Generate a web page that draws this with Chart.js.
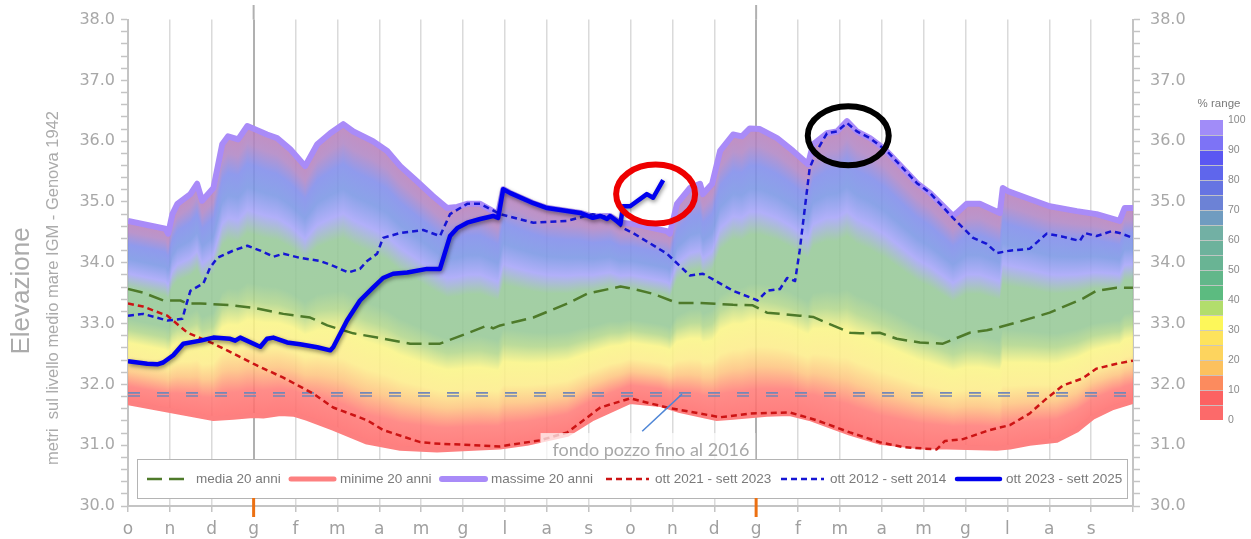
<!DOCTYPE html>
<html lang="it">
<head>
<meta charset="utf-8">
<title>Elevazione falda</title>
<script src="https://cdn.jsdelivr.net/npm/chart.js@4/dist/chart.umd.min.js"></script>
<style>
  html, body { margin: 0; padding: 0; background: #fff; }
  #chart { display: block; }
</style>
</head>
<body>
<canvas id="chart" width="1251" height="539"></canvas>
<script>
// mesi da ottobre a settembre, due anni idrologici
const mesi = ['o','n','d','g','f','m','a','m','g','l','a','s','o','n','d','g','f','m','a','m','g','l','a','s'];
const gennaio = [3, 15];

// massime 20 anni (mese decimale, quota m)
const maxMese = [0,0.89,0.96,1.06,1.18,1.49,1.65,1.77,2.04,2.25,2.39,2.63,2.85,2.99,3.32,3.56,3.87,4.23,4.52,4.83,5.14,5.38,5.85,6.19,6.5,6.9,7.28,7.62,7.86,8.1,8.41,8.84,8.96,9.12,9.68,10.01,10.8,11.1,11.51,11.76,12.06,12.87,12.94,13.11,13.42,13.66,13.73,13.95,14.14,14.45,14.66,14.85,15.09,15.5,15.88,16.24,16.36,16.69,16.93,17.17,17.41,17.72,18.07,18.84,19.15,19.7,19.79,20.03,20.34,20.82,20.89,21.01,21.53,22.01,22.66,23.13,23.68,23.8,24];
const maxQuota = [34.69,34.56,34.48,34.80,34.97,35.13,35.30,35.02,35.23,35.95,36.08,36.03,36.25,36.21,36.11,36.05,35.87,35.59,35.95,36.13,36.28,36.16,36.00,35.84,35.59,35.34,35.10,34.90,34.92,34.97,34.97,34.80,35.21,35.15,34.98,34.90,34.82,34.76,34.77,34.66,34.64,34.52,34.48,34.97,35.23,35.30,35.13,35.30,35.84,36.11,36.08,36.21,36.20,36.05,35.84,35.62,35.95,36.13,36.16,36.33,36.16,36.05,35.87,35.31,35.15,34.77,34.82,34.97,34.97,34.82,35.23,35.18,35.05,34.93,34.85,34.80,34.69,34.90,34.90];

// minime 20 anni
const minMese = [0,1.01,2.04,2.51,2.99,3.23,3.64,3.95,4.28,4.9,5.71,6.5,7.38,8.88,9.53,10.49,11.1,11.99,12.71,13.18,14.06,14.45,15.26,15.8,16.28,16.83,17.24,17.95,18.98,19.55,20.75,21.06,21.53,22.18,22.66,23.04,23.52,24];
const minQuota = [31.70,31.57,31.44,31.46,31.49,31.48,31.52,31.51,31.44,31.28,31.05,30.95,30.92,30.97,31.03,31.18,31.44,31.72,31.67,31.57,31.44,31.46,31.51,31.52,31.44,31.30,31.20,31.05,30.97,30.97,30.95,30.97,31.03,31.08,31.25,31.46,31.62,31.72];

// media 20 anni
const mediaMese = [0,0.36,0.84,1.25,1.42,1.73,2.51,2.99,3.71,4.35,4.76,5.38,5.95,6.74,7.45,8.1,8.58,8.72,8.89,9.68,10.49,10.96,11.76,12.06,12.54,13.11,13.66,14.45,14.92,15.26,16.04,16.36,17.24,17.48,17.95,18.36,18.91,19.46,20.1,20.51,20.75,21.23,22.01,22.8,23.13,23.61,24];
const mediaQuota = [33.57,33.51,33.38,33.38,33.33,33.33,33.30,33.26,33.16,33.10,32.97,32.84,32.77,32.67,32.67,32.84,32.97,32.92,32.97,33.10,33.33,33.49,33.61,33.57,33.49,33.34,33.34,33.31,33.30,33.18,33.13,33.11,32.85,32.84,32.85,32.75,32.69,32.67,32.85,32.89,32.93,33.02,33.18,33.41,33.54,33.59,33.59];

// ott 2021 - sett 2023
const rossoMese = [0,0.36,0.94,1.42,2.04,2.51,2.99,3.71,4.42,4.9,5.71,6.09,6.98,7.29,8.88,9.84,10.49,11.28,11.99,12.87,13.66,14.14,14.85,15.8,16.45,17.24,17.95,18.5,19.31,19.51,19.94,20.58,21.06,21.53,21.94,22.32,22.8,23.13,23.61,24];
const rossoQuota = [33.33,33.28,33.13,32.85,32.67,32.51,32.34,32.11,31.85,31.62,31.41,31.25,31.05,31.03,30.98,31.08,31.21,31.62,31.77,31.62,31.52,31.46,31.52,31.54,31.41,31.21,31.05,30.97,30.93,31.07,31.10,31.25,31.33,31.52,31.77,31.98,32.10,32.26,32.34,32.39];

// ott 2012 - sett 2014
const bluMese = [0,0.36,0.94,1.3,1.37,1.49,1.8,1.96,2.13,2.51,2.85,3.16,3.47,3.71,4.11,4.59,4.9,5.26,5.54,5.71,5.95,6.09,6.5,7.05,7.45,7.69,8.1,8.41,8.89,9.68,10.49,11.1,11.58,11.82,12.06,12.87,13.42,13.73,14.45,15.04,15.26,15.57,15.74,15.93,16.04,16.28,16.45,16.69,16.93,17.17,17.41,17.72,18.12,18.84,19.15,19.7,20.18,20.51,20.75,21.06,21.53,21.94,22.32,22.73,22.85,23.13,23.49,23.68,24];
const bluQuota = [33.13,33.16,33.05,33.08,33.26,33.54,33.66,33.92,34.08,34.20,34.28,34.20,34.10,34.15,34.08,34.03,33.95,33.84,33.90,34.03,34.15,34.41,34.49,34.54,34.44,34.80,34.97,34.97,34.80,34.66,34.69,34.80,34.74,34.57,34.49,34.15,33.79,33.82,33.54,33.38,33.54,33.57,33.75,33.70,34.20,35.56,35.84,36.13,36.16,36.30,36.16,36.05,35.84,35.31,35.15,34.74,34.41,34.31,34.16,34.20,34.23,34.48,34.43,34.36,34.49,34.44,34.52,34.49,34.41];

// ott 2023 - sett 2025 (in corso)
const attualeMese = [0,0.46,0.7,0.84,1.08,1.32,1.73,2.04,2.44,2.56,2.68,3.09,3.16,3.32,3.47,3.8,4.11,4.52,4.83,4.9,5.23,5.54,5.85,6.09,6.33,6.67,7.14,7.45,7.69,7.86,8.1,8.41,8.72,8.84,8.96,9.12,9.68,10.01,10.8,11.1,11.28,11.44,11.51,11.76,11.82,11.99,12.39,12.54,12.78];
const attualeQuota = [32.38,32.34,32.33,32.36,32.48,32.67,32.72,32.77,32.75,32.72,32.77,32.64,32.62,32.75,32.77,32.69,32.66,32.61,32.56,32.61,33.05,33.38,33.59,33.75,33.82,33.84,33.90,33.90,34.44,34.57,34.66,34.72,34.77,34.74,35.21,35.15,34.98,34.90,34.82,34.74,34.77,34.72,34.77,34.64,34.93,34.93,35.13,35.07,35.36];

// fondo pozzo fino al 2016 (doppia linea)
const fondoPozzo = [31.86, 31.81];
const fondoEtichetta = { x: 12.49, y: 30.92 };
const fondoFreccia = [[12.28, 31.23], [13.23, 31.84]];

// cerchi di evidenza
const cerchioRosso = { x: 12.60, y: 35.13 };
const cerchioNero = { x: 17.20, y: 36.09 };

// scala colori % range (dall'alto)
const rangeColori = ['#a18cf8','#7d73f6','#5b57f2','#5f66ec','#6674e2','#6c82d6','#709cc0','#72b0a4','#6db29c','#69b494','#62b78a','#5cbb80','#b2dd6c','#fdf75a','#fde35c','#fdd45e','#fcc15e','#fc8b5e','#fc6262','#fc6a6a'];
const rangeEtichette = ['100','90','80','70','60','50','40','30','20','10','0'];

// voci di legenda e loro scostamento dal bordo del riquadro
const voci = ['media 20 anni', 'minime 20 anni', 'massime 20 anni', 'ott 2021 - sett 2023', 'ott 2012 - sett 2014', 'ott 2023 - sett 2025'];
const vociX = [8, 152, 303, 467, 642, 818];

const punti = (mm, qq) => mm.map((m, i) => ({ x: m, y: qq[i] }));

// sfumatura della fascia min-max (0 = minimo, 1 = massimo)
const sfumatura = [
  [0.00, 'rgb(255,108,108)'], [0.09, 'rgb(255,124,120)'], [0.17, 'rgb(253,196,128)'],
  [0.24, 'rgb(252,236,138)'], [0.33, 'rgb(249,244,134)'], [0.40, 'rgb(178,214,140)'],
  [0.46, 'rgb(150,200,150)'], [0.63, 'rgb(150,200,152)'], [0.71, 'rgb(166,164,248)'],
  [0.79, 'rgb(122,150,228)'], [0.87, 'rgb(128,140,234)'], [0.94, 'rgb(176,134,196)'],
  [1.00, 'rgb(186,128,184)']
];

const bandaPlugin = {
  id: 'banda',
  beforeDatasetsDraw(chart) {
    const { ctx, chartArea, scales: { x, y } } = chart;
    const alto = maxMese.map((m, i) => [x.getPixelForValue(m), y.getPixelForValue(maxQuota[i])]);
    const basso = minMese.map((m, i) => [x.getPixelForValue(m), y.getPixelForValue(minQuota[i])]);
    const su = (pts, px) => {
      for (let i = 1; i < pts.length; i++) {
        if (px <= pts[i][0]) {
          const [x0, y0] = pts[i - 1], [x1, y1] = pts[i];
          return y0 + (px - x0) / ((x1 - x0) || 1) * (y1 - y0);
        }
      }
      return pts[pts.length - 1][1];
    };
    ctx.save();
    ctx.globalAlpha = 0.88;
    for (let px = Math.floor(chartArea.left); px < chartArea.right; px++) {
      const yT = su(alto, px + 0.5), yB = su(basso, px + 0.5);
      const g = ctx.createLinearGradient(0, yB, 0, yT);
      sfumatura.forEach(([f, c]) => g.addColorStop(f, c));
      ctx.fillStyle = g;
      ctx.fillRect(px, yT, 1, yB - yT);
    }
    ctx.restore();
    // linee di gennaio oltre l'area
    ctx.save();
    ctx.strokeStyle = '#b0b0b0';
    ctx.lineWidth = 2;
    gennaio.forEach(m => {
      const gx = x.getPixelForValue(m);
      ctx.beginPath(); ctx.moveTo(gx, 5); ctx.lineTo(gx, chartArea.top); ctx.stroke();
    });
    ctx.restore();
  },
  beforeDatasetDraw(chart, args) {
    if (chart.data.datasets[args.index].label === 'ott 2023 - sett 2025') {
      const ctx = chart.ctx;
      ctx.save();
      ctx.shadowColor = 'rgba(0,0,0,0.45)';
      ctx.shadowBlur = 4;
      ctx.shadowOffsetX = 1;
      ctx.shadowOffsetY = 2;
    }
  },
  afterDatasetDraw(chart, args) {
    if (chart.data.datasets[args.index].label === 'ott 2023 - sett 2025') chart.ctx.restore();
  },
  afterDatasetsDraw(chart) {
    const { ctx, chartArea, scales: { x, y } } = chart;

    // etichetta fondo pozzo
    ctx.save();
    ctx.font = '18px Lato';
    const tx = x.getPixelForValue(fondoEtichetta.x), ty = y.getPixelForValue(fondoEtichetta.y);
    const tw = ctx.measureText('fondo pozzo fino al 2016').width;
    ctx.fillStyle = 'rgba(255,255,255,0.7)';
    ctx.fillRect(tx - tw / 2 - 12, ty - 17, tw + 18, 27);
    ctx.fillStyle = '#a8a8a8';
    ctx.textAlign = 'center';
    ctx.textBaseline = 'middle';
    ctx.fillText('fondo pozzo fino al 2016', tx, ty);
    ctx.strokeStyle = '#4f86d6';
    ctx.lineWidth = 1.5;
    ctx.beginPath();
    ctx.moveTo(x.getPixelForValue(fondoFreccia[0][0]), y.getPixelForValue(fondoFreccia[0][1]));
    ctx.lineTo(x.getPixelForValue(fondoFreccia[1][0]), y.getPixelForValue(fondoFreccia[1][1]));
    ctx.stroke();
    ctx.restore();

    // cerchi
    ctx.save();
    ctx.lineWidth = 6;
    ctx.strokeStyle = '#ee0000';
    ctx.beginPath();
    ctx.ellipse(x.getPixelForValue(cerchioRosso.x), y.getPixelForValue(cerchioRosso.y), 39.5, 29.5, 0, 0, Math.PI * 2);
    ctx.stroke();
    ctx.strokeStyle = '#000';
    ctx.beginPath();
    ctx.ellipse(x.getPixelForValue(cerchioNero.x), y.getPixelForValue(cerchioNero.y), 40.5, 29.5, 0, 0, Math.PI * 2);
    ctx.stroke();
    ctx.restore();

    // legenda nel riquadro
    ctx.save();
    const bx = chartArea.left + 9, by = chartArea.bottom - 47;
    ctx.fillStyle = '#fff';
    ctx.fillRect(bx, by, chartArea.right - 6 - bx, 39);
    ctx.strokeStyle = '#b4b4b4';
    ctx.lineWidth = 1;
    ctx.strokeRect(bx + 0.5, by + 0.5, chartArea.right - 6 - bx, 39);
    ctx.font = '13.5px "Liberation Sans"';
    ctx.textBaseline = 'middle';
    const ly = by + 20;
    voci.forEach((nome, i) => {
      const lx = bx + vociX[i];
      const ds = chart.data.datasets.find(d => d.label === nome);
      ctx.strokeStyle = ds.borderColor;
      ctx.lineWidth = ds.borderWidth;
      ctx.setLineDash(ds.borderDash || []);
      ctx.lineCap = ds.borderDash ? 'butt' : 'round';
      ctx.beginPath();
      ctx.moveTo(lx + 2, ly); ctx.lineTo(lx + 45, ly);
      ctx.stroke();
      ctx.setLineDash([]);
      ctx.fillStyle = '#7a7a7a';
      ctx.fillText(nome, lx + 51, ly);
    });
    ctx.restore();

    // tacche arancioni di gennaio
    ctx.save();
    ctx.strokeStyle = '#ec7012';
    ctx.lineWidth = 3;
    gennaio.forEach(m => {
      const gx = x.getPixelForValue(m);
      ctx.beginPath(); ctx.moveTo(gx, chartArea.bottom - 8); ctx.lineTo(gx, chartArea.bottom + 11); ctx.stroke();
    });
    ctx.restore();
  },
  afterDraw(chart) {
    const { ctx } = chart;
    ctx.save();
    ctx.fillStyle = '#ababab';
    ctx.textAlign = 'center';
    ctx.textBaseline = 'middle';
    ctx.translate(22, 291);
    ctx.rotate(-Math.PI / 2);
    ctx.font = '26px "Liberation Sans"';
    ctx.fillText('Elevazione', 0, 0);
    ctx.restore();
    ctx.save();
    ctx.fillStyle = '#ababab';
    ctx.textAlign = 'center';
    ctx.textBaseline = 'middle';
    ctx.translate(53, 288);
    ctx.rotate(-Math.PI / 2);
    ctx.font = '16.5px "Liberation Sans"';
    ctx.fillText('metri  sul livello medio mare IGM - Genova 1942', 0, 0);
    ctx.restore();

    // scala % range
    ctx.save();
    const cx = 1200, ct = 120, ch = 15;
    ctx.fillStyle = '#7a7a7a';
    ctx.font = '11.5px "Liberation Sans"';
    ctx.textAlign = 'center';
    ctx.textBaseline = 'middle';
    ctx.fillText('% range', 1219, 104);
    rangeColori.forEach((c, i) => {
      ctx.fillStyle = c;
      ctx.fillRect(cx, ct + i * ch, 23, ch);
    });
    ctx.strokeStyle = 'rgba(200,200,200,0.9)';
    ctx.lineWidth = 1;
    for (let i = 1; i < rangeColori.length; i++) {
      ctx.beginPath(); ctx.moveTo(cx, ct + i * ch + 0.5); ctx.lineTo(cx + 23, ct + i * ch + 0.5); ctx.stroke();
    }
    ctx.fillStyle = '#8a8a8a';
    ctx.font = '10.5px "Liberation Sans"';
    ctx.textAlign = 'left';
    rangeEtichette.forEach((t, i) => ctx.fillText(t, 1228, ct + i * 2 * ch));
    ctx.restore();
  }
};

const assiY = pos => ({
  type: 'linear',
  position: pos,
  min: 30,
  max: 38,
  afterFit: s => { s.width = pos === 'left' ? 128 : 118; },
  ticks: {
    stepSize: 0.2,
    autoSkip: false,
    color: '#a8a8a8',
    padding: pos === 'left' ? 6 : 10,
    font: { family: 'DejaVu Sans', size: 16 },
    callback: v => Math.abs(v - Math.round(v)) < 1e-6 ? v.toFixed(1) : ''
  },
  grid: { drawOnChartArea: false, tickLength: 7, tickColor: '#c4c4c4', tickWidth: 1.5 },
  border: { color: '#c4c4c4', width: 2 }
});

const linea = (label, mm, qq, colore, spessore, tratto, ordine) => ({
  label,
  data: punti(mm, qq),
  borderColor: colore,
  borderWidth: spessore,
  borderDash: tratto,
  pointRadius: 0,
  tension: 0,
  fill: false,
  borderJoinStyle: 'round',
  order: ordine
});

new Chart(document.getElementById('chart'), {
  type: 'line',
  data: {
    datasets: [
      linea('ott 2023 - sett 2025', attualeMese, attualeQuota, '#0000ee', 4.5, undefined, 1),
      linea('ott 2012 - sett 2014', bluMese, bluQuota, '#1616d4', 2.5, [6, 4], 2),
      linea('ott 2021 - sett 2023', rossoMese, rossoQuota, '#cc1414', 2.5, [6, 4], 3),
      linea('media 20 anni', mediaMese, mediaQuota, '#4e7a2a', 2.5, [15, 7], 4),
      linea('fondo pozzo', [0, 24], [fondoPozzo[0], fondoPozzo[0]], '#7388b8', 1.6, [12, 17], 5),
      linea('fondo pozzo bis', [0, 24], [fondoPozzo[1], fondoPozzo[1]], '#7388b8', 1.6, [12, 17], 6),
      linea('massime 20 anni', maxMese, maxQuota, '#a98bf8', 6, undefined, 7),
      linea('minime 20 anni', minMese, minQuota, '#fd8080', 5, undefined, 8)
    ]
  },
  options: {
    responsive: false,
    animation: false,
    events: [],
    layout: { padding: { top: 18, bottom: 0, left: 0, right: 0 } },
    plugins: {
      legend: { display: false },
      title: { display: false },
      tooltip: { enabled: false }
    },
    scales: {
      x: {
        type: 'linear',
        min: 0,
        max: 24,
        afterFit: s => { s.height = 33; },
        ticks: {
          stepSize: 1,
          autoSkip: false,
          maxRotation: 0,
          color: '#a0a0a0',
          padding: 7,
          font: { family: 'DejaVu Sans', size: 17 },
          callback: v => mesi[v] ?? ''
        },
        grid: {
          color: c => (c.tick && gennaio.includes(c.tick.value)) ? '#b0b0b0' : '#dadada',
          lineWidth: c => (c.tick && gennaio.includes(c.tick.value)) ? 2 : 1.5,
          tickLength: 6,
          tickColor: '#c4c4c4',
          tickWidth: 1.5
        },
        border: { color: '#c4c4c4', width: 2 }
      },
      y: assiY('left'),
      y2: assiY('right')
    }
  },
  plugins: [bandaPlugin]
});
</script>
</body>
</html>
